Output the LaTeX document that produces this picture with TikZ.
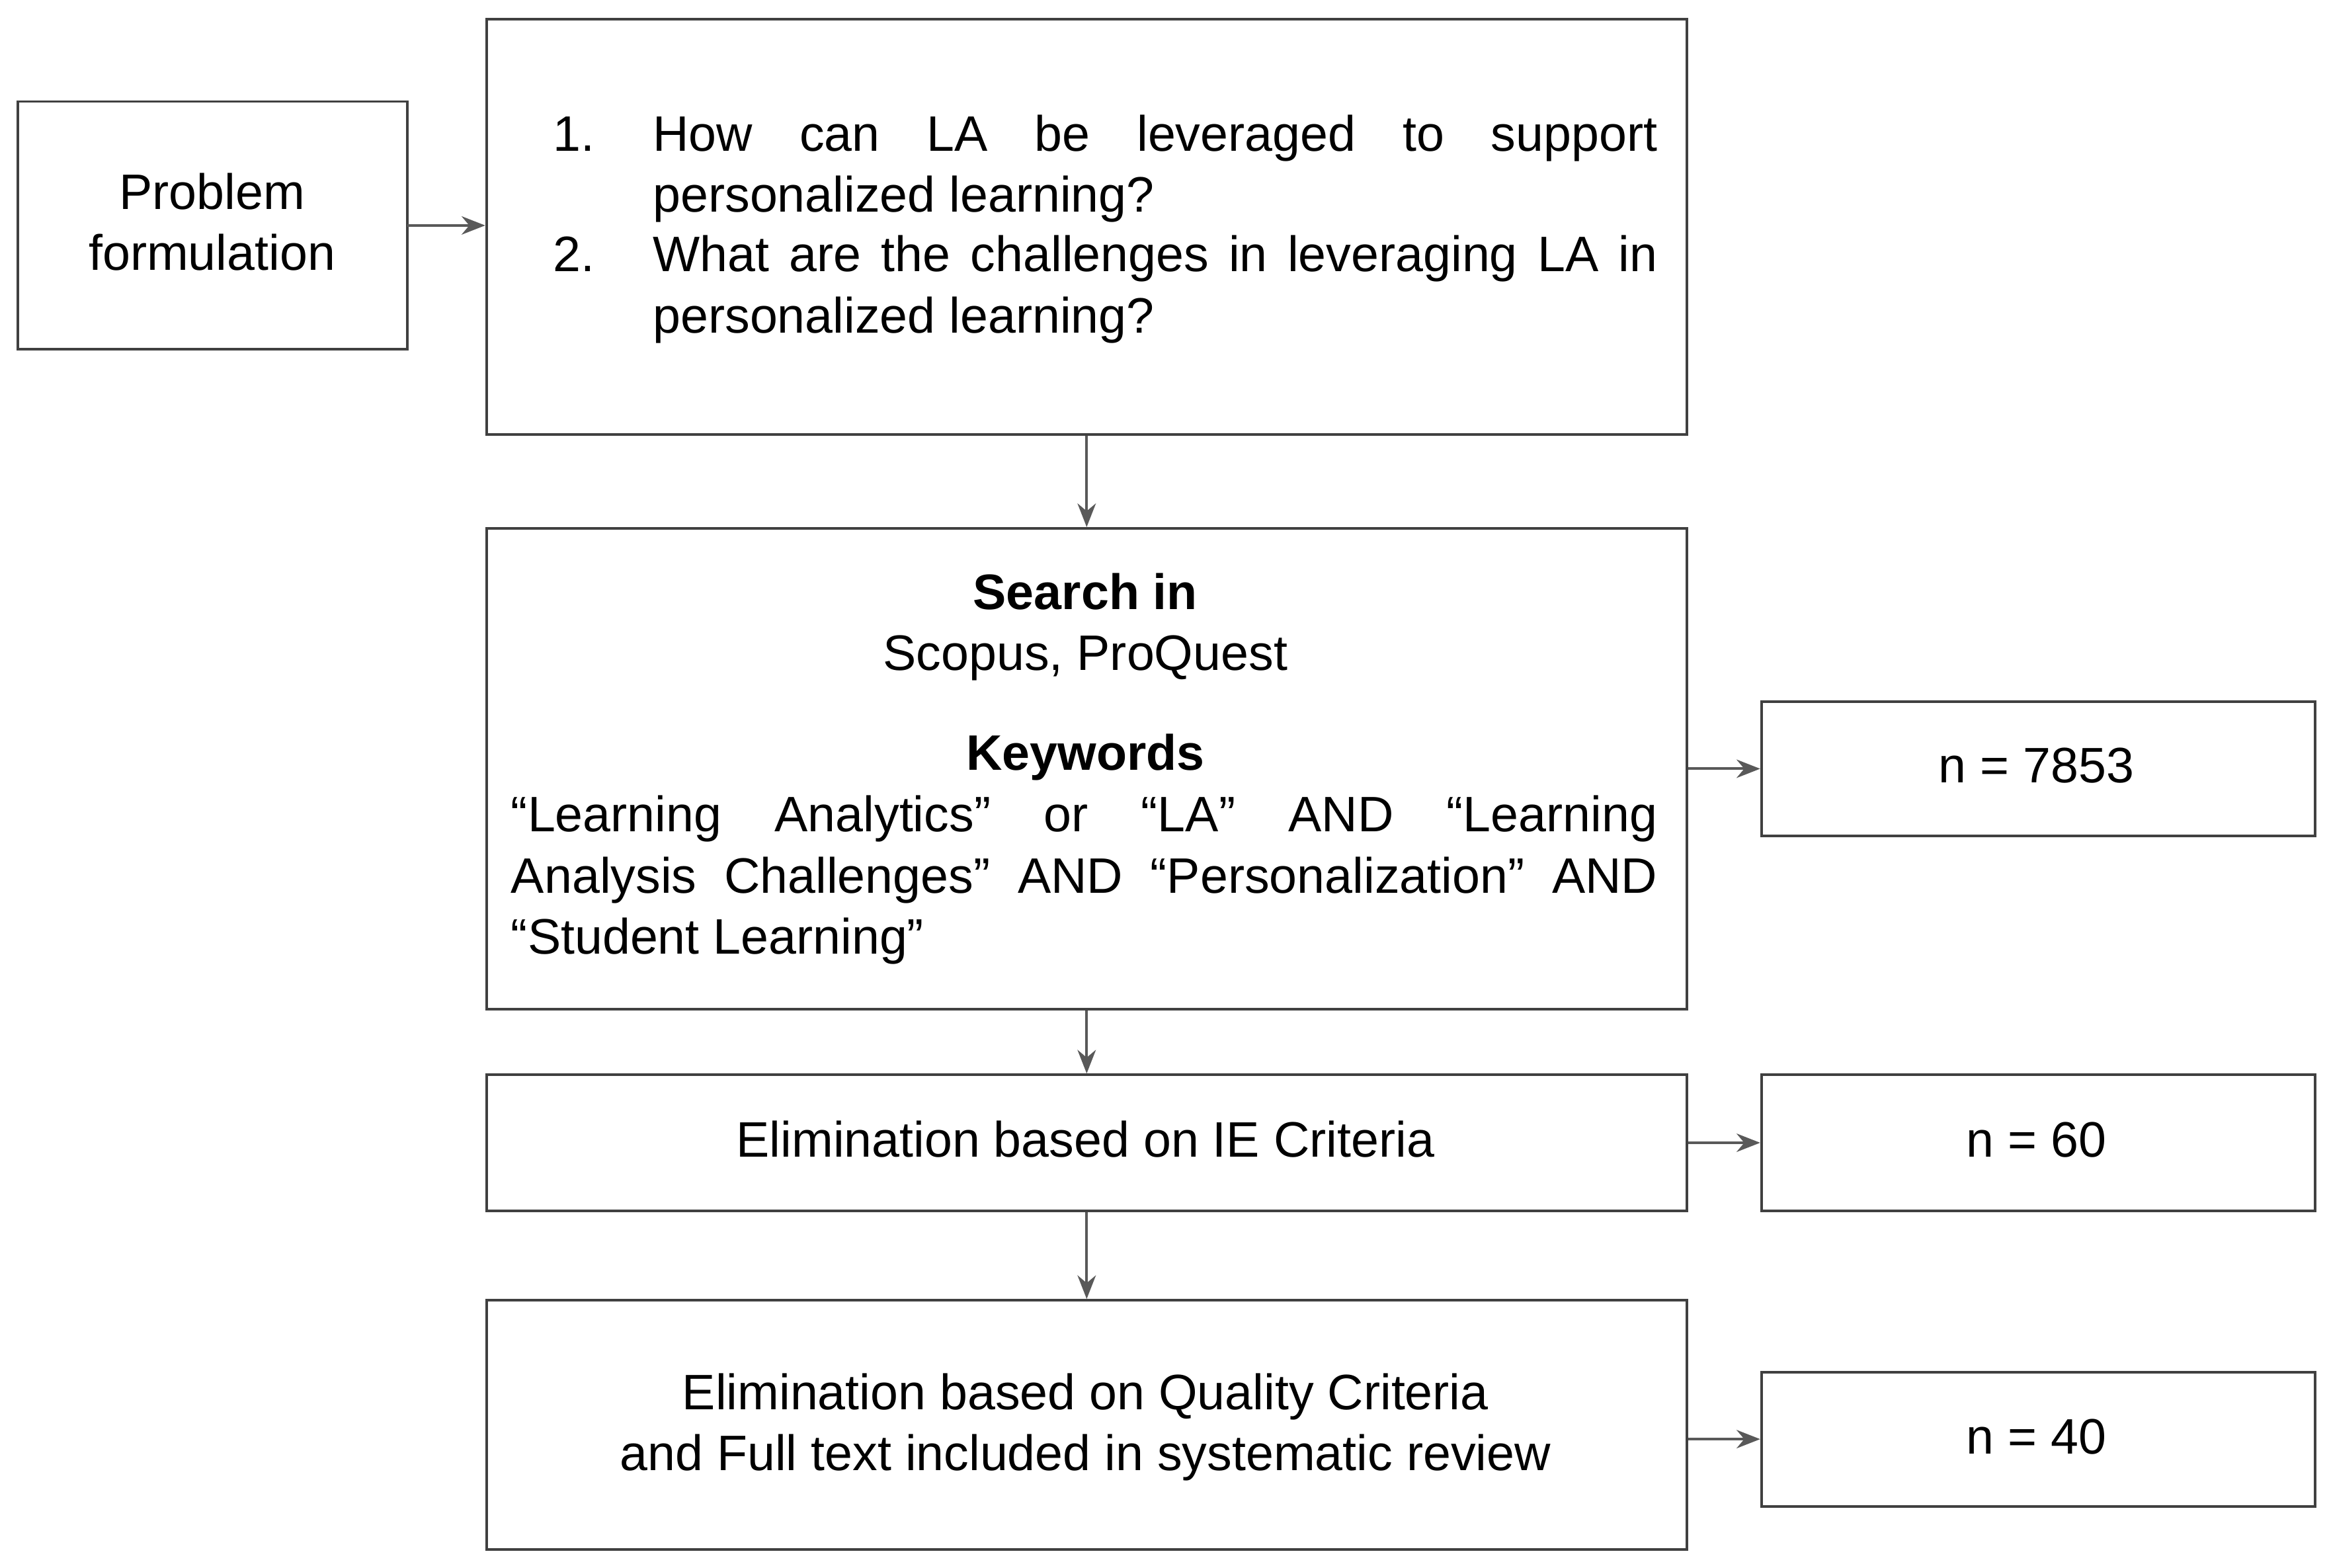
\documentclass[tikz,border=0pt]{standalone}
\usepackage{fontspec}
\setmainfont{Liberation Sans}
\usetikzlibrary{arrows.meta}
\begin{document}
\begin{tikzpicture}[x=0.02cm,y=-0.02cm,
  box/.style={draw=black!75,line width=1pt},
  arr/.style={draw=black!65,line width=1pt,-{Stealth[length=9pt,width=7pt]}},
  txt/.style={inner sep=0pt,font=\fontsize{19pt}{23pt}\selectfont},
  ln/.style={txt,anchor=base west}]
\useasboundingbox (0,0) rectangle (1560,1050);
\draw[box] (12,68) rectangle (273,234) node[pos=.5,name=prob]{};
\coordinate (probE) at (273,151);
\node[box,minimum width=804*0.02cm,minimum height=278*0.02cm,anchor=north west] (q) at (325,12) {};
\node[box,minimum width=804*0.02cm,minimum height=322*0.02cm,anchor=north west] (search) at (325,353) {};
\node[box,minimum width=804*0.02cm,minimum height=91*0.02cm,anchor=north west] (ie) at (325,719) {};
\node[box,minimum width=804*0.02cm,minimum height=167*0.02cm,anchor=north west] (qual) at (325,870) {};
\node[box,minimum width=371*0.02cm,minimum height=90*0.02cm,anchor=north west] (n1) at (1179,469) {};
\node[box,minimum width=371*0.02cm,minimum height=91*0.02cm,anchor=north west] (n2) at (1179,719) {};
\node[box,minimum width=371*0.02cm,minimum height=90*0.02cm,anchor=north west] (n3) at (1179,918) {};
% texts
\node[txt,anchor=base] (p1) at (142,140) {Problem};
\node[txt,anchor=base] (p2) at (142,181) {formulation};
\node[ln] (q1n) at (370,101) {1.};
\node[ln] (q1) at (437,101) {\makebox[13.46cm][s]{How can LA be leveraged to support}};
\node[ln] (q1b) at (437,142) {personalized learning?};
\node[ln] (q2n) at (370,182) {2.};
\node[ln] (q2) at (437,182) {\makebox[13.46cm][s]{What are the challenges in leveraging LA in}};
\node[ln] (q2b) at (437,223) {personalized learning?};
\node[txt,anchor=base] (s1) at (727,408) {\bfseries Search in};
\node[txt,anchor=base] (s2) at (727,449) {Scopus, ProQuest};
\node[txt,anchor=base] (s3) at (727,516) {\bfseries Keywords};
\node[ln] (s4) at (342,557) {\makebox[15.36cm][s]{“Learning Analytics” or “LA” AND “Learning}};
\node[ln] (s5) at (342,598) {\makebox[15.36cm][s]{Analysis Challenges” AND “Personalization” AND}};
\node[ln] (s6) at (342,639) {“Student Learning”};
\node[txt,anchor=base] (ie1) at (727,775) {Elimination based on IE Criteria};
\node[txt,anchor=base] (ql1) at (727,944) {Elimination based on Quality Criteria};
\node[txt,anchor=base] (ql2) at (727,985) {and Full text included in systematic review};
\node[txt,anchor=base] (n1t) at (1364,524) {n = 7853};
\node[txt,anchor=base] (n2t) at (1364,775) {n = 60};
\node[txt,anchor=base] (n3t) at (1364,974) {n = 40};
% arrows
\draw[arr] (probE) -- (probE -| q.west);
\draw[arr] (q.south) -- (search.north);
\draw[arr] (search.south) -- (ie.north);
\draw[arr] (ie.south) -- (qual.north);
\draw[arr] (search.east) -- (n1.west);
\draw[arr] (ie.east) -- (n2.west);
\draw[arr] (qual.east |- n3.west) -- (n3.west);
\end{tikzpicture}
\end{document}
